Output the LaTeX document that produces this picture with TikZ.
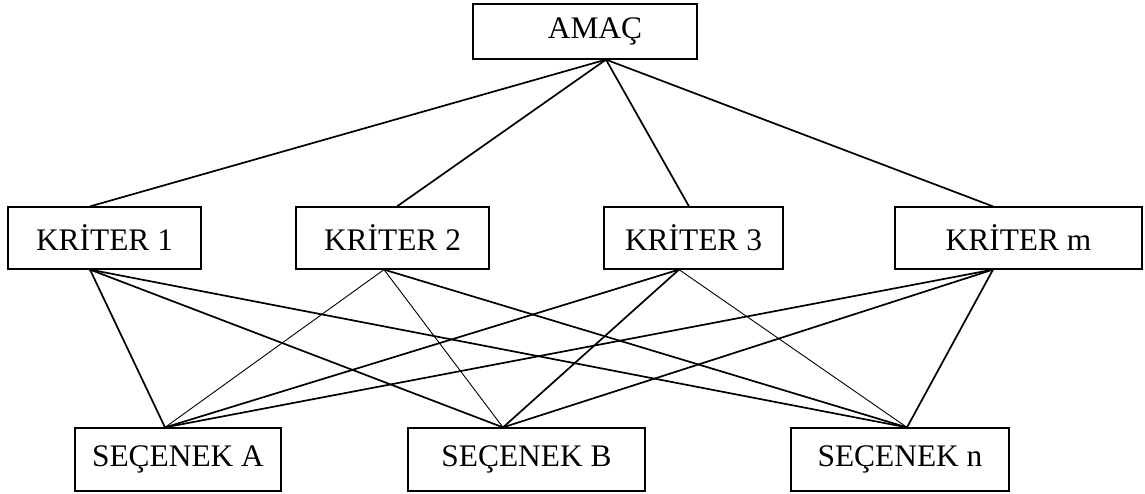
\documentclass[tikz,border=0pt]{standalone}
\usepackage{fontspec}
\setmainfont{Liberation Serif}
\usetikzlibrary{positioning}

\begin{document}
\begin{tikzpicture}[
        x=0.5pt, y=-0.5pt,
        box/.style={draw, rectangle, line width=0.6pt, minimum height=31pt, inner sep=0pt, align=center, font=\fontsize{15.7}{18}\selectfont},
        line/.style={line width=0.85pt},
        thin line/.style={line width=0.45pt}
    ]
        \useasboundingbox (0,0) rectangle (1145,493);
        \node[box, minimum width=112pt, minimum height=27.5pt] (amac) at (585,31.5) {\hspace*{10pt}AMAÇ};
        \node[box, minimum width=96.5pt] (k1) at (104.5,238) {KRİTER 1};
        \node[box, minimum width=96.5pt] (k2) at (392.5,238) {KRİTER 2};
        \node[box, minimum width=89.5pt] (k3) at (693.5,238) {KRİTER 3};
        \node[box, minimum width=123.5pt] (km) at (1018.5,238) {KRİTER m};
        \node[box, minimum width=103pt, minimum height=31.5pt] (sa) at (178,459.5) {SEÇENEK A};
        \node[box, minimum width=118.5pt, minimum height=31.5pt] (sb) at (526.5,459.5) {SEÇENEK B};
        \node[box, minimum width=109pt, minimum height=31.5pt] (sn) at (900,459.5) {SEÇENEK n};
        % connection points
        \coordinate (amacb) at ([xshift=10.5pt]amac.south);
        \coordinate (k1t) at ([xshift=-7.25pt]k1.north);
        \coordinate (k1b) at ([xshift=-7.25pt]k1.south);
        \coordinate (k2t) at ([xshift=2.25pt]k2.north);
        \coordinate (k2b) at ([xshift=-4.25pt]k2.south);
        \coordinate (k3t) at ([xshift=-2.25pt]k3.north);
        \coordinate (k3b) at ([xshift=-7.25pt]k3.south);
        \coordinate (kmt) at ([xshift=-12.75pt]km.north);
        \coordinate (kmb) at ([xshift=-12.75pt]km.south);
        \coordinate (sat) at ([xshift=-6.5pt]sa.north);
        \coordinate (sbt) at ([xshift=-11.75pt]sb.north);
        \coordinate (snt) at ([xshift=3.5pt]sn.north);
        % goal to criteria
        \foreach \k in {k1t, k2t, k3t, kmt}
            \draw[line] (amacb) -- (\k);
        % criteria to alternatives
        \foreach \k/\s in {k1b/sat, k1b/sbt, k1b/snt, k2b/snt, k3b/sat, k3b/sbt, kmb/sat, kmb/sbt, kmb/snt}
            \draw[line] (\k) -- (\s);
        \draw[thin line] (k2b) -- (sat);
        \draw[thin line] (k2b) -- (sbt);
        \draw[thin line] (k3b) -- (snt);
    \end{tikzpicture}
\end{document}
